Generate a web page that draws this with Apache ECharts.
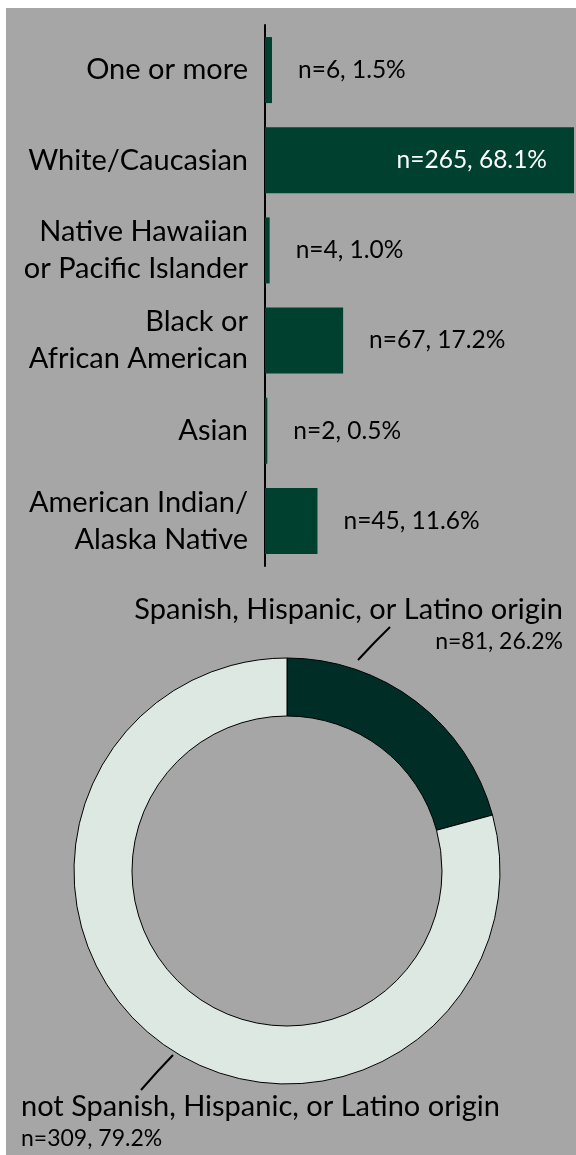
<!DOCTYPE html>
<html>
<head>
<meta charset="utf-8">
<script src="https://cdn.jsdelivr.net/npm/echarts@6/dist/echarts.min.js"></script>
<style>
html,body{margin:0;padding:0;background:#fff;}
#chart{width:576px;height:1155px;}
</style>
</head>
<body>
<div id="chart"></div>
<script>
// ---- data ----
const categories = ['One or more', 'White/Caucasian', 'Native Hawaiian\nor Pacific Islander', 'Black or\nAfrican American', 'Asian', 'American Indian/\nAlaska Native'];
const counts = [6, 265, 4, 67, 2, 45];
const percents = [1.5, 68.1, 1.0, 17.2, 0.5, 11.6];

const originNames = ['Spanish, Hispanic, or Latino origin', 'not Spanish, Hispanic, or Latino origin'];
const originCounts = [81, 309];
const originPercents = [26.2, 79.2];

const FONT = 'Lato';
const maxCount = Math.max(...counts);

const chart = echarts.init(document.getElementById('chart'), null, {renderer: 'canvas'});

const option = {
  backgroundColor: '#ffffff',
  animation: false,
  textStyle: {fontFamily: FONT},
  graphic: [{
    type: 'rect', z: -10, silent: true,
    shape: {x: 6, y: 8, width: 570, height: 1147},
    style: {fill: '#a6a6a6'}
  }],
  grid: {left: 265, right: 2, top: 25, height: 541, containLabel: false},
  xAxis: {type: 'value', min: 0, max: maxCount, show: false},
  yAxis: {
    type: 'category', data: categories, inverse: true,
    axisLine: {show: true, lineStyle: {color: '#000', width: 2}},
    axisTick: {show: false},
    axisLabel: {color: '#000', fontSize: 29, fontFamily: FONT, margin: 17, lineHeight: 37, align: 'right'}
  },
  series: [
    {
      type: 'bar', z: 3,
      barWidth: 66,
      itemStyle: {color: '#00402e'},
      data: counts.map((v, i) => v === maxCount
        ? {value: v, label: {position: 'insideRight', distance: 27, color: '#ffffff'}}
        : v),
      label: {
        show: true, position: 'right', distance: 26,
        color: '#000', fontSize: 24.5, fontFamily: FONT,
        formatter: p => 'n=' + counts[p.dataIndex] + ', ' + percents[p.dataIndex].toFixed(1) + '%'
      }
    },
    {
      type: 'pie',
      center: [287, 871],
      radius: [155, 213],
      startAngle: 90,
      clockwise: true,
      avoidLabelOverlap: false,
      itemStyle: {borderColor: '#000', borderWidth: 1},
      data: originNames.map((n, i) => ({
        name: n, value: originCounts[i],
        itemStyle: {color: i === 0 ? '#002d26' : '#dce8e1'}
      })),
      label: {
        show: true, position: 'outside', color: '#000', fontFamily: FONT,
        formatter: p => '{a|' + p.name + '}\n{b|n=' + originCounts[p.dataIndex] + ', ' + originPercents[p.dataIndex].toFixed(1) + '%}',
        rich: {
          a: {fontSize: 29, lineHeight: 35, color: '#000', fontFamily: FONT},
          b: {fontSize: 23, lineHeight: 28, color: '#000', fontFamily: FONT}
        }
      },
      labelLine: {show: true, length: 10, length2: 10, lineStyle: {color: '#000', width: 2}},
      labelLayout: function (params) {
        if (params.dataIndex === 0) {
          return {
            x: 563, y: 624, align: 'right', verticalAlign: 'middle',
            labelLinePoints: [[358, 660], [374, 643], [390, 627]]
          };
        }
        return {
          x: 21, y: 1121, align: 'left', verticalAlign: 'middle',
          labelLinePoints: [[173, 1055], [157, 1072], [141, 1090]]
        };
      }
    }
  ]
};
chart.setOption(option);
</script>
</body>
</html>
